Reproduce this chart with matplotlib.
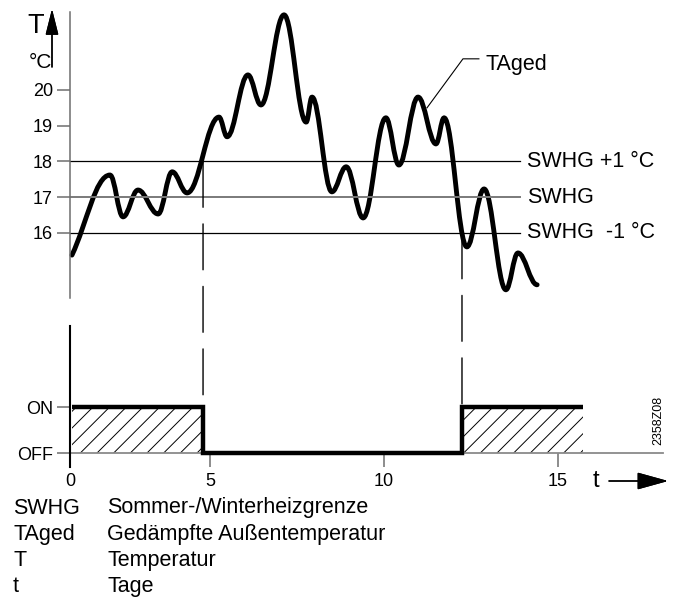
import matplotlib
matplotlib.use("Agg")
import matplotlib.pyplot as plt
from matplotlib.path import Path
from matplotlib.patches import PathPatch, ConnectionPatch

plt.rcParams['font.family'] = ['Liberation Sans', 'DejaVu Sans']
plt.rcParams['hatch.linewidth'] = 0.7

# damped outdoor temperature TAged, turning points (day, degC)
taged_day = [0.06, 1.23, 1.63, 2.09, 2.71, 3.14, 3.60, 4.58, 4.83, 5.47,
             5.87, 6.58, 7.26, 7.44, 8.05, 8.49, 9.01, 9.71, 10.11, 10.70,
             11.25, 11.50, 12.20, 12.73, 13.40, 13.77, 14.36]
taged_temp = [15.38, 17.62, 16.45, 17.20, 16.53, 17.71, 17.12, 19.24, 18.69, 20.42,
              19.58, 22.10, 19.10, 19.80, 17.15, 17.85, 16.42, 19.22, 17.90, 19.80,
              18.49, 19.22, 15.61, 17.23, 14.41, 15.44, 14.55]

# summer/winter heating limit and its +-1 K band
swhg_levels = [18, 17, 16]
swhg_labels = ['SWHG +1 °C', 'SWHG', 'SWHG  -1 °C']
swhg_colors = ['black', '#7a7a7a', 'black']
swhg_widths = [0.9, 1.4, 0.9]
temp_ticks = [16, 17, 18, 19, 20]

# heating state
switch_off_day = 4.09
switch_on_day = 12.05
state_end_day = 15.77
state_labels = ['OFF', 'ON']

day_tick_labels = ['0', '5', '10', '15']
day_tick_pos = [0, 4.30, 9.65, 15.0]

legend_abbr = ['SWHG', 'TAged', 'T', 't']
legend_text = ['Sommer-/Winterheizgrenze', 'Gedämpfte Außentemperatur',
               'Temperatur', 'Tage']

W, H = 678, 599
fig = plt.figure(figsize=(W / 100, H / 100), dpi=100)
ax_t = fig.add_axes([70 / W, 1 - 298 / H, 595 / W, 286 / H])
ax_b = fig.add_axes([70 / W, 1 - 467 / H, 595 / W, 141 / H])

xmax = 595 / 32.53
gray = '#6e6e6e'

#----------------------------------------------------------------------
# upper diagram: temperature
ax_t.set_xlim(0, xmax)
ax_t.set_ylim(14.18, 22.18)
for s in ['top', 'right', 'bottom']:
    ax_t.spines[s].set_visible(False)
ax_t.spines['left'].set_color(gray)
ax_t.spines['left'].set_linewidth(1.1)
ax_t.set_xticks([])
ax_t.set_yticks(temp_ticks)
ax_t.tick_params(axis='y', length=9.4, width=1.1, color=gray, pad=3, labelsize=13)

line_end = 13.83
for lev, lab, col, lw in zip(swhg_levels, swhg_labels, swhg_colors, swhg_widths):
    ax_t.plot([0, line_end], [lev, lev], color=col, lw=lw)
    ax_t.text(line_end + 0.22, lev, lab, fontsize=15.5, va='center', ha='left')

# smooth curve through the turning points (horizontal tangents at extrema)
k = 0.38
verts = [(taged_day[0], taged_temp[0])]
codes = [Path.MOVETO]
for i in range(1, len(taged_day)):
    x0, y0 = taged_day[i - 1], taged_temp[i - 1]
    x1, y1 = taged_day[i], taged_temp[i]
    dx = x1 - x0
    if i == 1:
        c1 = (x0 + k * dx, y0 + k * (y1 - y0))
    else:
        c1 = (x0 + k * dx, y0)
    c2 = (x1 - k * dx, y1)
    verts += [c1, c2, (x1, y1)]
    codes += [Path.CURVE4] * 3
ax_t.add_patch(PathPatch(Path(verts, codes), facecolor='none', edgecolor='black',
                         lw=3.5, capstyle='round', joinstyle='round', clip_on=False))

# TAged label with leader
ax_t.plot([10.975, 12.08, 12.57], [19.50, 20.87, 20.87], color='black', lw=0.8)
ax_t.text(12.76, 20.56, 'TAged', fontsize=15.5, va='baseline', ha='left')

#----------------------------------------------------------------------
# lower diagram: heating on/off
ax_b.set_xlim(0, xmax)
ax_b.set_ylim(-0.304, 2.761)
for s in ['top', 'right', 'bottom']:
    ax_b.spines[s].set_visible(False)
ax_b.spines['left'].set_color('black')
ax_b.spines['left'].set_linewidth(1.5)
ax_b.set_yticks([0, 1])
ax_b.set_yticklabels(state_labels)
ax_b.tick_params(axis='y', length=9.4, width=1.1, color=gray, pad=3, labelsize=13)
ax_b.set_xticks(day_tick_pos)
ax_b.set_xticklabels(day_tick_labels)
ax_b.tick_params(axis='x', direction='in', length=10, width=1.1, color=gray,
                 pad=4.5, labelsize=13)

ax_b.plot([0, (663 - 70) / 32.53], [0, 0], color='#8a8a8a', lw=1.3)
ax_b.fill_between([0.06, switch_off_day], 0, 1, facecolor='none',
                  edgecolor='black', hatch='//', linewidth=0)
ax_b.fill_between([switch_on_day, state_end_day], 0, 1, facecolor='none',
                  edgecolor='black', hatch='//', linewidth=0)
ax_b.plot([0.06, switch_off_day, switch_off_day, switch_on_day, switch_on_day, state_end_day],
          [1, 1, 0, 0, 1, 1], color='black', lw=3.2,
          solid_joinstyle='miter', solid_capstyle='butt')

# dashed switching lines
for d, lev in [(switch_off_day, 18), (switch_on_day, 16)]:
    con = ConnectionPatch(xyA=(d, lev), coordsA=ax_t.transData,
                          xyB=(d, 1), coordsB=ax_b.transData,
                          color='black', lw=1.0, linestyle=(0, (33, 12)))
    fig.add_artist(con)

ax_b.text(1 - 7 / 595, 0.156, '2358Z08', transform=ax_b.transAxes, rotation=90,
          fontsize=9, ha='center', va='bottom')

#----------------------------------------------------------------------
# axis symbols and arrows
fig.text(36 / W, 1 - 26 / H, 'T', fontsize=19.5, ha='center', va='center')
fig.text(40 / W, 1 - 63 / H, '°C', fontsize=15, ha='center', va='center')
fig.add_artist(plt.annotate('', xy=(52, H - 9), xytext=(52, H - 67),
                            xycoords='figure pixels', textcoords='figure pixels',
                            arrowprops=dict(arrowstyle='-|>,head_length=1.6,head_width=0.4',
                                            color='black', lw=1.0, mutation_scale=10,
                                            shrinkA=0, shrinkB=0)))
fig.text(596 / W, 1 - 481 / H, 't', fontsize=17, ha='center', va='center')
fig.add_artist(plt.annotate('', xy=(668, H - 481), xytext=(609, H - 481),
                            xycoords='figure pixels', textcoords='figure pixels',
                            arrowprops=dict(arrowstyle='-|>,head_length=1.95,head_width=0.54',
                                            color='black', lw=1.0, mutation_scale=10,
                                            shrinkA=0, shrinkB=0)))

# explanation of symbols
for i, (a, t) in enumerate(zip(legend_abbr, legend_text)):
    y = 1 - (508 + 26.3 * i) / H
    fig.text(13 / W, y, a, fontsize=15.5, ha='left', va='center')
    fig.text(107 / W, y, t, fontsize=15.5, ha='left', va='center')

fig.savefig('out.png', dpi=100)
